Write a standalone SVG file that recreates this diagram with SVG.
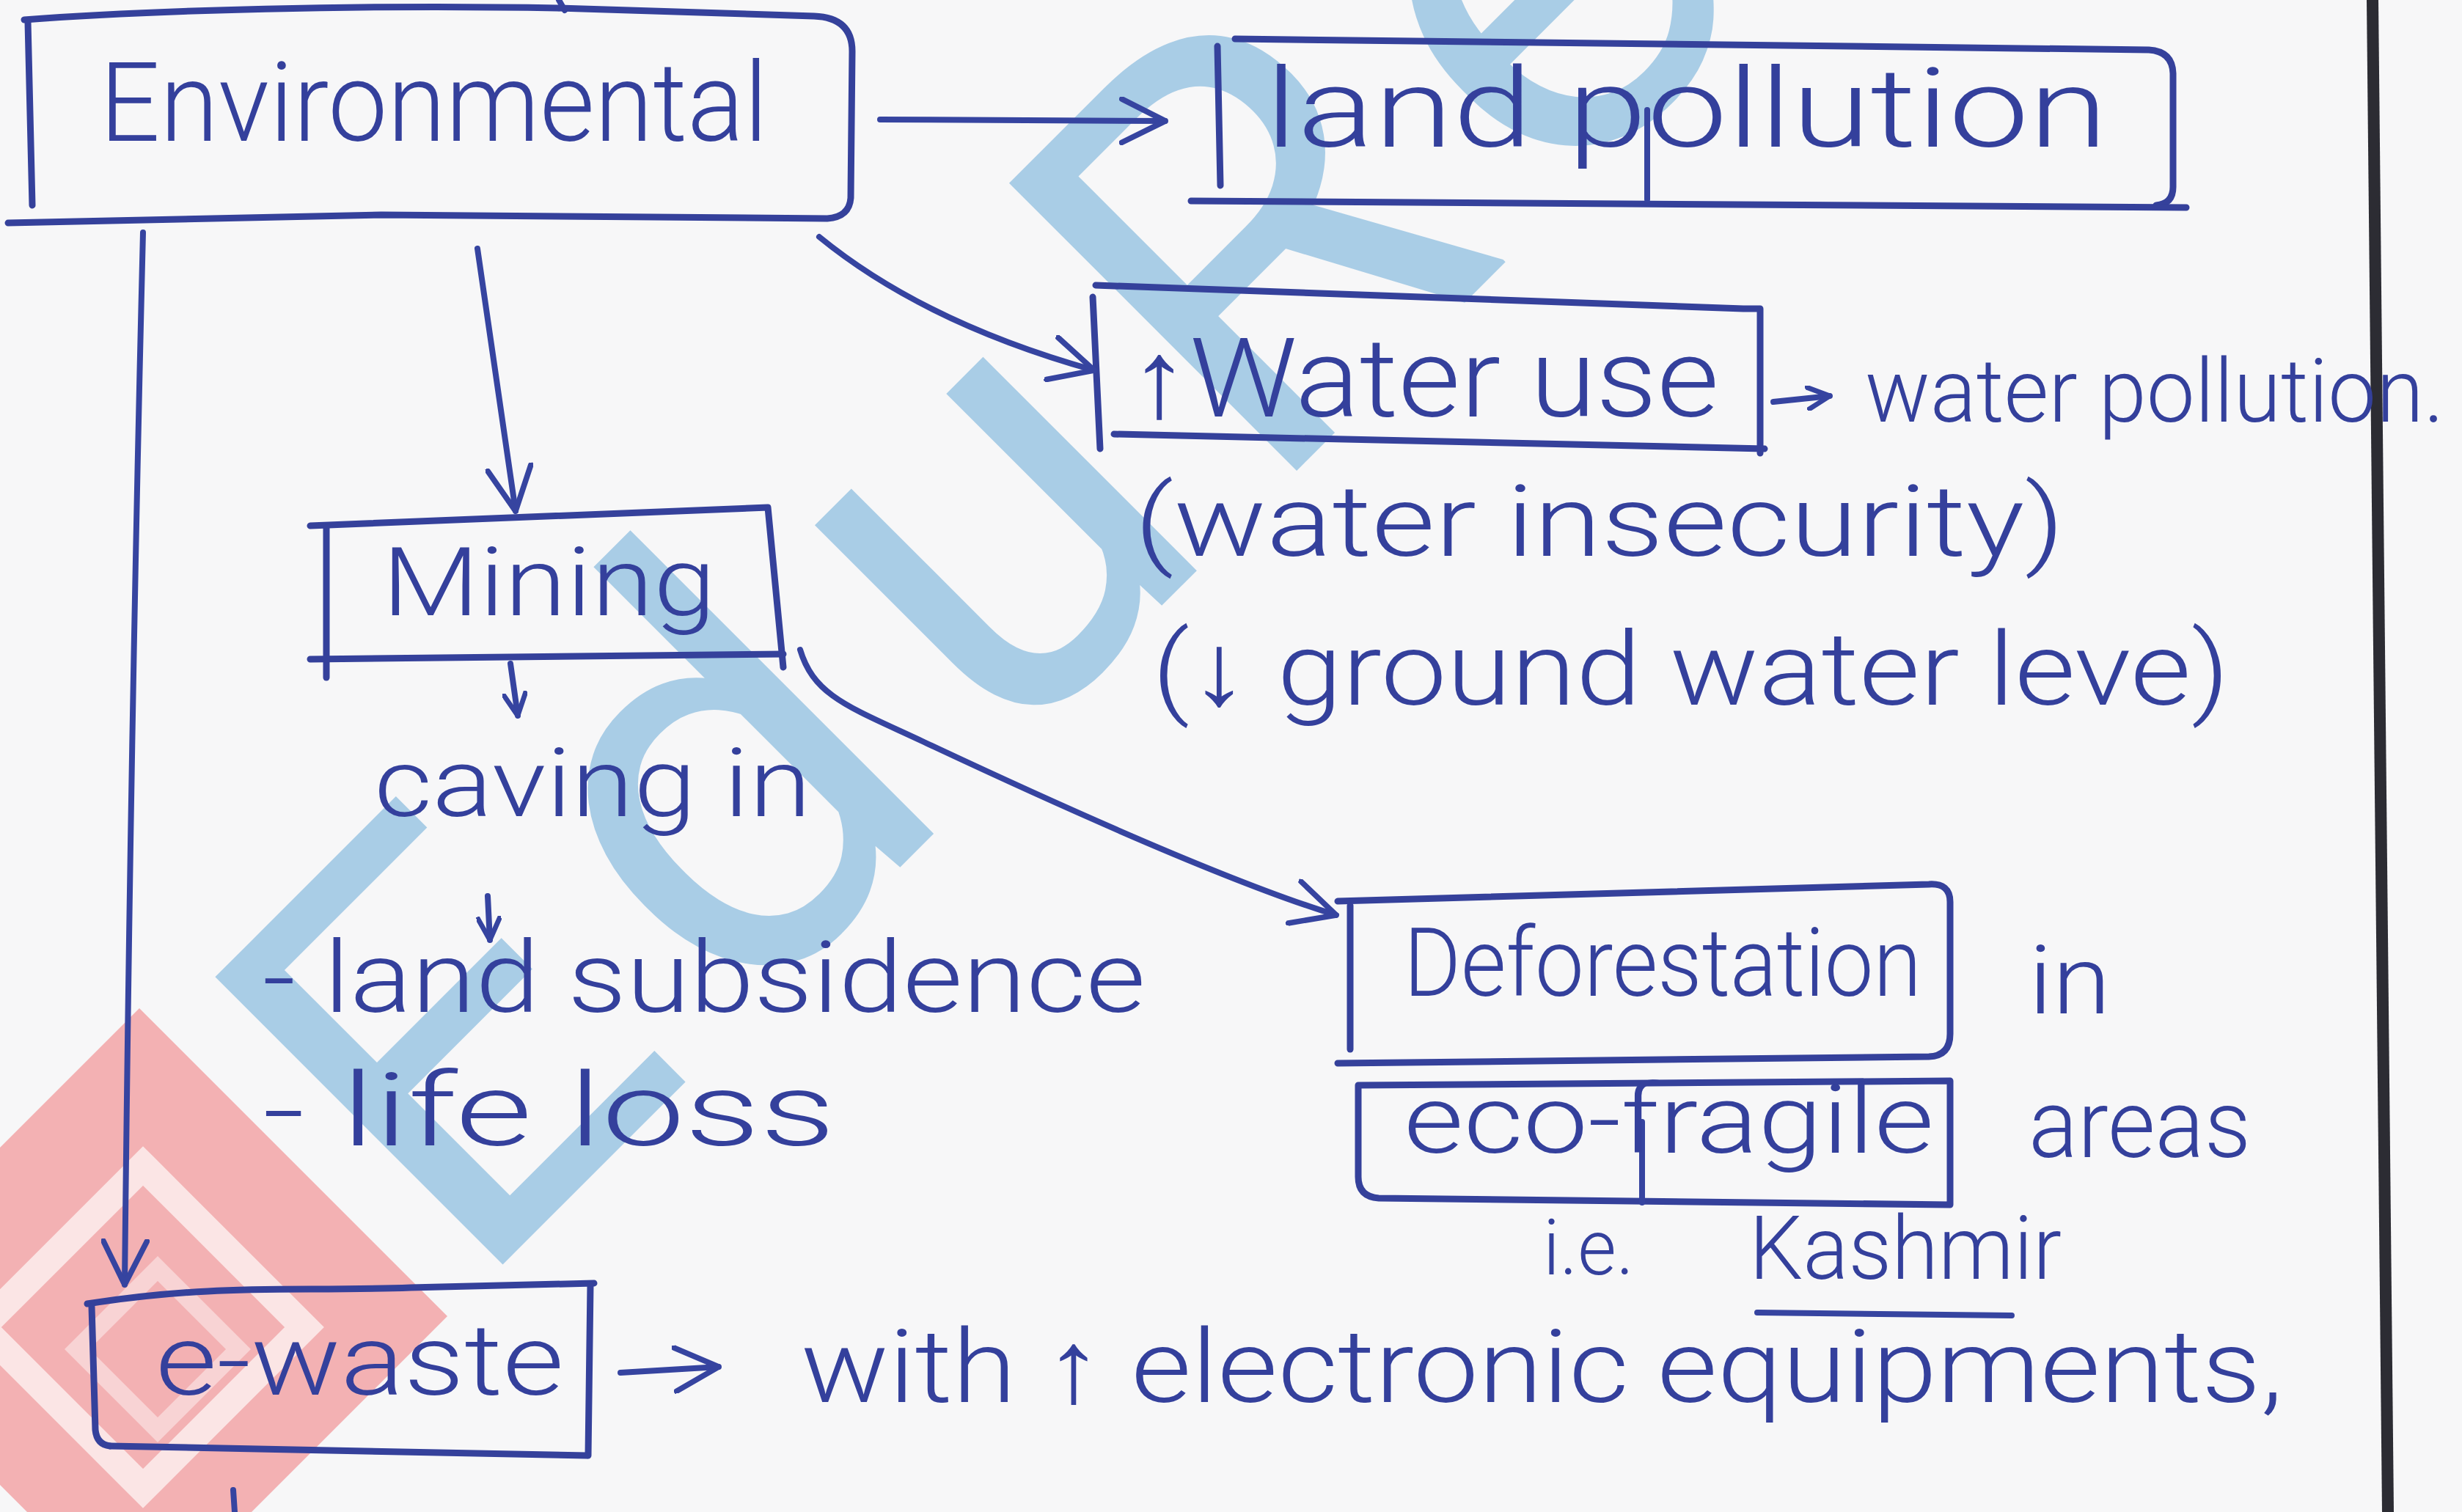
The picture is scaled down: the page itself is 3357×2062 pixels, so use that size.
<svg xmlns="http://www.w3.org/2000/svg" width="3357" height="2062" viewBox="0 0 3357 2062">
  <defs>
    <style>
      .ink{fill:none;stroke:#3644a0;stroke-width:8;stroke-linecap:round;stroke-linejoin:round}
      .box{fill:none;stroke:#35419b;stroke-width:9;stroke-linecap:round;stroke-linejoin:round}
      .hw{font-family:Roboto,"Liberation Sans","DejaVu Sans",sans-serif;font-weight:300;fill:#34409c}
      .wm{font-family:Roboto,"Liberation Sans",sans-serif;font-weight:400;fill:#9cc6e4;opacity:.85}
    </style>
    <marker id="head" viewBox="0 0 20 20" refX="19" refY="10" markerUnits="userSpaceOnUse" markerWidth="66" markerHeight="66" orient="auto">
      <path d="M1,1 L19,10 L1,19" fill="none" stroke="#3644a0" stroke-width="2.3" stroke-linecap="round" stroke-linejoin="round"/>
    </marker>
    <marker id="headSm" viewBox="0 0 20 20" refX="19" refY="10" markerUnits="userSpaceOnUse" markerWidth="34" markerHeight="34" orient="auto">
      <path d="M1,1 L19,10 L1,19" fill="none" stroke="#3644a0" stroke-width="4" stroke-linecap="round" stroke-linejoin="round"/>
    </marker>
  </defs>

  <!-- paper -->
  <rect width="3357" height="2062" fill="#f7f7f8"/>

  <!-- watermark -->
  <g id="watermark">
    <polygon points="190,1375 610,1795 190,2215 -230,1795" fill="#f2a9ab" opacity="0.9"/>
    <polygon points="195,1590 415,1810 195,2030 -25,1810" fill="none" stroke="#fbe5e5" stroke-width="38"/>
    <polygon points="215,1730 325,1840 215,1950 105,1840" fill="none" stroke="#f8d3d4" stroke-width="24"/>
    <text class="wm" font-size="780" letter-spacing="75" transform="translate(640,1770) rotate(-45)">EduRev</text>
  </g>

  <!-- page edge -->
  <path d="M3235,0 L3256,2062" fill="none" stroke="#2c2c33" stroke-width="16"/>

  <!-- stray pen marks -->
  <path class="ink" d="M762,0 L770,14"/>
  <path class="ink" d="M318,2032 L320,2062"/>

  <g id="node-environmental">
    <path class="box" d="M33,27 C200,14 500,6 760,11 L1110,22 Q1162,24 1162,70 L1160,270 Q1158,296 1128,298 L520,293 L11,304"/>
    <path class="box" d="M38,30 L44,280"/>
    <text class="hw" x="136" y="192" font-size="150" textLength="911" lengthAdjust="spacingAndGlyphs">Environmental</text>
  </g>

  <g id="node-land-pollution">
    <path class="box" d="M1684,53 L2930,68 Q2962,70 2963,100 L2963,255 Q2963,278 2940,280"/>
    <path class="box" d="M1624,274 L2981,283"/>
    <path class="box" d="M1660,63 L1664,253"/>
    <path class="ink" d="M2246,150 L2246,272"/>
    <text class="hw" x="1725" y="200" font-size="150" textLength="1149" lengthAdjust="spacingAndGlyphs">land pollution</text>
  </g>

  <g id="node-water-use">
    <path class="box" d="M1494,389 L2377,421 L2400,421 L2400,618"/>
    <path class="box" d="M1519,592 L2406,612"/>
    <path class="box" d="M1490,405 L1500,612"/>
    <text class="hw" x="1540" y="568" font-size="150" textLength="804" lengthAdjust="spacingAndGlyphs">↑Water use</text>
  </g>

  <g id="note-water-pollution">
    <text class="hw" x="2543" y="575" font-size="120" textLength="790" lengthAdjust="spacingAndGlyphs">water pollution.</text>
  </g>

  <g id="note-water-insecurity">
    <text class="hw" x="1547" y="758" font-size="135" textLength="1268" lengthAdjust="spacingAndGlyphs">(water insecurity)</text>
  </g>

  <g id="note-groundwater">
    <text class="hw" x="1571" y="961" font-size="140" textLength="1469" lengthAdjust="spacingAndGlyphs">(↓ ground water leve)</text>
  </g>

  <g id="node-mining">
    <path class="box" d="M423,717 L1047,692 L1068,910"/>
    <path class="box" d="M445,720 L445,924"/>
    <path class="box" d="M423,899 L1068,892"/>
    <text class="hw" x="521" y="839" font-size="130" textLength="455" lengthAdjust="spacingAndGlyphs">Mining</text>
  </g>

  <g id="note-caving-in">
    <text class="hw" x="510" y="1113" font-size="130" textLength="596" lengthAdjust="spacingAndGlyphs">caving in</text>
  </g>

  <g id="note-land-subsidence">
    <text class="hw" x="358" y="1380" font-size="135" textLength="1204" lengthAdjust="spacingAndGlyphs">- land subsidence</text>
  </g>

  <g id="note-life-loss">
    <text class="hw" x="358" y="1562" font-size="140" textLength="781" lengthAdjust="spacingAndGlyphs">- life loss</text>
  </g>

  <g id="node-deforestation">
    <path class="box" d="M1824,1229 L2630,1206 Q2659,1204 2659,1230 L2659,1410 Q2659,1440 2630,1441 L1824,1450"/>
    <path class="box" d="M1841,1235 L1841,1431"/>
    <text class="hw" x="1914" y="1358" font-size="130" textLength="706" lengthAdjust="spacingAndGlyphs">Deforestation</text>
  </g>

  <g id="note-in">
    <text class="hw" x="2766" y="1382" font-size="130" textLength="112" lengthAdjust="spacingAndGlyphs">in</text>
  </g>

  <g id="node-eco-fragile">
    <path class="box" d="M1852,1480 L2659,1474 L2659,1643 L1880,1634 Q1852,1632 1852,1605 Z"/>
    <path class="ink" d="M2239,1530 L2239,1640"/>
    <text class="hw" x="1914" y="1572" font-size="130" textLength="723" lengthAdjust="spacingAndGlyphs">eco-fragile</text>
  </g>

  <g id="note-areas">
    <text class="hw" x="2766" y="1578" font-size="130" textLength="303" lengthAdjust="spacingAndGlyphs">areas</text>
  </g>

  <g id="note-kashmir">
    <text class="hw" x="2104" y="1738" font-size="105" textLength="124" lengthAdjust="spacingAndGlyphs">i.e.</text>
    <text class="hw" x="2385" y="1744" font-size="120" textLength="426" lengthAdjust="spacingAndGlyphs">Kashmir</text>
    <path class="ink" d="M2396,1790 L2743,1794"/>
  </g>

  <g id="node-e-waste">
    <path class="box" d="M119,1778 C300,1750 400,1762 560,1756 L810,1750"/>
    <path class="box" d="M805,1752 L802,1985"/>
    <path class="box" d="M150,1972 L800,1985"/>
    <path class="box" d="M125,1782 L130,1950 Q132,1970 150,1972"/>
    <text class="hw" x="212" y="1902" font-size="135" textLength="557" lengthAdjust="spacingAndGlyphs">e-waste</text>
  </g>

  <g id="note-electronics">
    <text class="hw" x="1092" y="1912" font-size="140" textLength="2021" lengthAdjust="spacingAndGlyphs">with ↑ electronic equipments,</text>
  </g>

  <g id="connectors">
    <path class="ink" d="M1200,163 L1589,165" marker-end="url(#head)"/>
    <path class="ink" d="M1117,323 Q1260,440 1492,505" marker-end="url(#head)"/>
    <path class="ink" d="M651,339 L703,697" marker-end="url(#head)"/>
    <path class="ink" d="M195,317 Q178,1000 170,1752" marker-end="url(#head)"/>
    <path class="ink" d="M1091,886 C1110,950 1160,965 1260,1012 S1650,1195 1822,1248" marker-end="url(#head)"/>
    <path class="ink" d="M696,905 L706,976" marker-end="url(#headSm)"/>
    <path class="ink" d="M665,1222 L668,1282" marker-end="url(#headSm)"/>
    <path class="ink" d="M2418,548 L2495,540" marker-end="url(#headSm)"/>
    <path class="ink" d="M846,1872 L980,1864" marker-end="url(#head)"/>
  </g>
</svg>
